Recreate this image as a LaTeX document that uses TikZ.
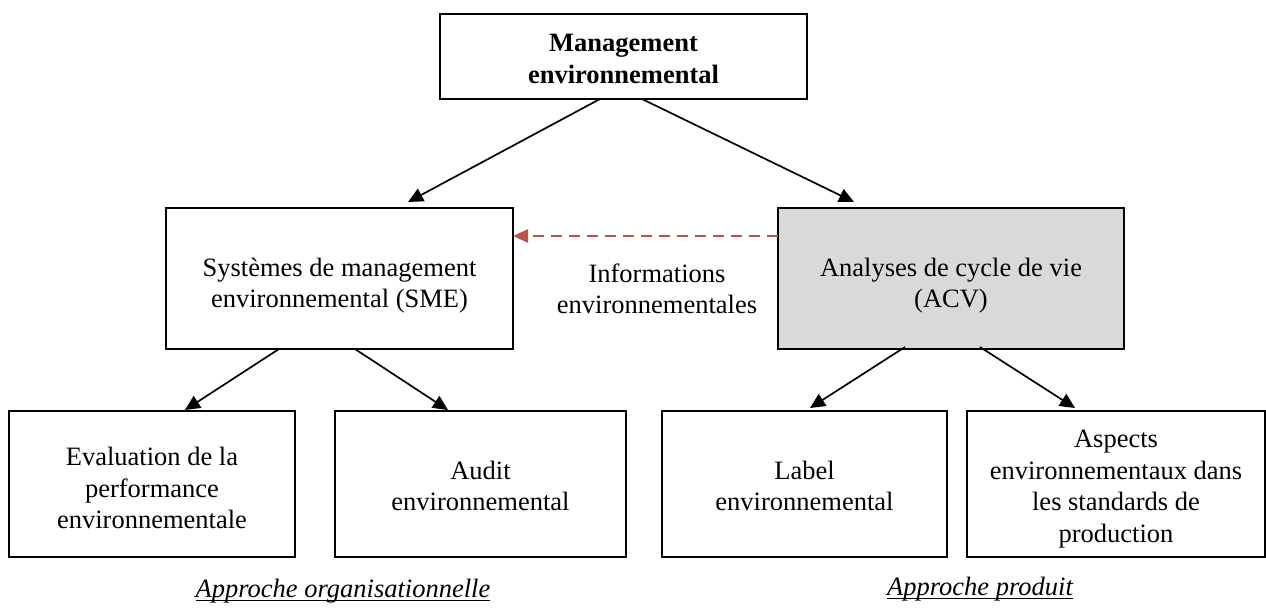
\documentclass[tikz,border=0pt]{standalone}
\usepackage{fontspec}
\setmainfont{Liberation Serif}
\usetikzlibrary{arrows.meta}
\definecolor{acvgray}{RGB}{217,217,217}
\definecolor{dashred}{RGB}{192,80,77}
\newcommand\myul[1]{\setbox0\hbox{#1}\rlap{\rule[-4pt]{\wd0}{1.8pt}}\box0}
\begin{document}
\begin{tikzpicture}[x=1pt,y=-1pt,
  box/.style={draw=black, line width=1.8pt, fill=white, inner sep=0pt, outer sep=0pt},
  plain/.style={inner sep=0pt, align=center, font=\fontsize{26.5}{31.5}\selectfont},
  conn/.style={line width=1.7pt, -{Triangle[length=15pt,width=14pt]}},
  infoarrow/.style={draw=dashred, line width=2.6pt, dash pattern=on 11pt off 7pt,
    -{Triangle[length=15pt,width=13pt]}}]
\useasboundingbox (0,0) rectangle (1266,608);

\node[box, minimum width=367pt, minimum height=85pt,
  label={[plain, yshift=-2.5pt]center:{\textbf{Management}\\\textbf{environnemental}}}]
  (top) at (623.5,56.5) {};
\node[box, minimum width=347pt, minimum height=141pt,
  label={[plain, yshift=-7pt]center:{Systèmes de management\\environnemental (SME)}}]
  (sme) at (339.5,278.5) {};
\node[box, fill=acvgray, minimum width=346pt, minimum height=141pt,
  label={[plain, yshift=-7pt]center:{Analyses de cycle de vie\\(ACV)}}]
  (acv) at (951,278.5) {};
\node[box, minimum width=286pt, minimum height=146pt,
  label={[plain, yshift=-4pt]center:{Evaluation de la\\performance\\environnementale}}]
  (eval) at (152,484) {};
\node[box, minimum width=291pt, minimum height=146pt,
  label={[plain, yshift=-2pt]center:{Audit\\environnemental}}]
  (audit) at (480.5,484) {};
\node[box, minimum width=285pt, minimum height=146pt,
  label={[plain, yshift=-2pt]center:{Label\\environnemental}}]
  (label) at (804.5,484) {};
\node[box, minimum width=298pt, minimum height=146pt,
  label={[plain, yshift=-5pt]center:{Aspects\\environnementaux dans\\les standards de\\production}}]
  (aspects) at (1116,484) {};

\node[plain] (info) at (657,289) {Informations\\environnementales};
\node[plain] (org) at (343,591) {\myul{\itshape Approche organisationnelle}};
\node[plain] (prod) at (980,589) {\myul{\itshape Approche produit}};

\draw[conn] ([xshift=-23.5pt]top.south) -- ([xshift=68.5pt,yshift=6pt]sme.north);
\draw[conn] ([xshift=18.5pt]top.south) -- ([xshift=-97pt,yshift=6pt]acv.north);
\draw[infoarrow] ([yshift=42.5pt]acv.west) -- ([yshift=42.5pt]sme.east);
\draw[conn] ([xshift=-60.5pt]sme.south) -- ([xshift=33pt,yshift=1pt]eval.north);
\draw[conn] ([xshift=15.5pt]sme.south) -- ([xshift=-32.5pt,yshift=1pt]audit.north);
\draw[conn] ([xshift=-46pt,yshift=2pt]acv.south) -- ([xshift=5.5pt,yshift=3pt]label.north);
\draw[conn] ([xshift=29pt,yshift=2pt]acv.south) -- ([xshift=-41pt,yshift=3pt]aspects.north);
\end{tikzpicture}
\end{document}
